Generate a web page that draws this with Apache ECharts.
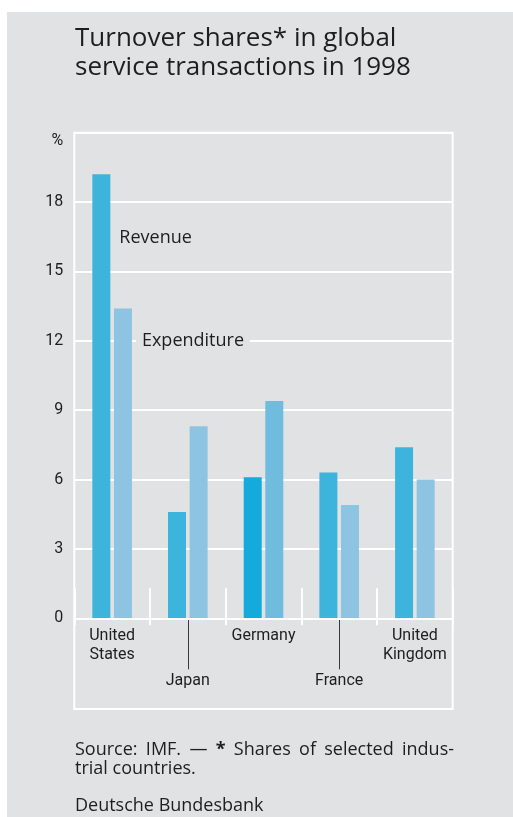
<!DOCTYPE html>
<html>
<head>
<meta charset="utf-8">
<script src="https://cdn.jsdelivr.net/npm/echarts@6/dist/echarts.min.js"></script>
<style>
html,body{margin:0;padding:0;background:#fff;}
#c{width:513px;height:817px;}
</style>
</head>
<body>
<div id="c"></div>
<script>
// ---- data ----
const categories = ['United States', 'Japan', 'Germany', 'France', 'United Kingdom'];
const categoryLabels = ['United\nStates', 'Japan', 'Germany', 'France', 'United\nKingdom'];
const revenue = [19.2, 4.6, 6.1, 6.3, 7.4];
const expenditure = [13.4, 8.3, 9.4, 4.9, 6.0];
const yTicks = [0, 3, 6, 9, 12, 15, 18, 21];
const seriesNames = ['Revenue', 'Expenditure'];
const revenueLabelAt = 16.45;
const expenditureLabelAt = 12;
const footnoteWords = ['Source:', 'IMF.', '—', '*', 'Shares', 'of', 'selected', 'indus-'];

// ---- style ----
const BG = '#e1e2e4';
const TXT = '#1e1e1e';
const NARROW = "Roboto, 'Open Sans', sans-serif";
const SANS = "'Open Sans', sans-serif";
const G = {left: 74.3, right: 452.7, top: 132.7, zero: 618.3, frameBottom: 709};

const chart = echarts.init(document.getElementById('c'), null, {renderer: 'canvas'});
const labelOf = (v) => categoryLabels[categories.indexOf(v)];

const footLine1 = footnoteWords.map((w) => (w === '*' ? '{b|*}' : '{n|' + w + '}')).join('{s| }');

const option = {
  backgroundColor: '#ffffff',
  animation: false,
  title: {
    text: 'Turnover shares* in global\nservice transactions in 1998',
    left: 75, top: 24, padding: 0,
    textStyle: {fontFamily: SANS, fontSize: 26, lineHeight: 29, fontWeight: 'normal', color: TXT}
  },
  grid: {left: G.left, right: 513 - G.right, top: G.top, bottom: 817 - G.zero, containLabel: false},
  xAxis: [
    {
      type: 'category', data: categories, position: 'bottom', z: 5,
      axisLine: {show: true, lineStyle: {color: '#ffffff', width: 2}},
      axisTick: {show: true, inside: true, length: 30, interval: 0, lineStyle: {color: '#ffffff', width: 2}},
      axisLabel: {
        interval: (i) => i % 2 === 0, margin: 8, formatter: labelOf,
        fontFamily: NARROW, fontSize: 16, lineHeight: 19, color: TXT
      },
      splitLine: {show: false}
    },
    {
      type: 'category', data: categories, position: 'bottom',
      axisLine: {show: false},
      axisTick: {show: true, length: 7, interval: 0, lineStyle: {color: '#ffffff', width: 2}},
      axisLabel: {show: false}, splitLine: {show: false}
    },
    {
      type: 'category', data: categories, position: 'bottom',
      axisLine: {show: false},
      axisTick: {show: true, alignWithLabel: true, length: 51, interval: (i) => i % 2 === 1, lineStyle: {color: '#3a3a3a', width: 1}},
      axisLabel: {
        interval: (i) => i % 2 === 1, margin: 53, formatter: labelOf,
        fontFamily: NARROW, fontSize: 16, lineHeight: 19, color: TXT
      },
      splitLine: {show: false}
    }
  ],
  yAxis: {
    type: 'value', min: yTicks[0], max: yTicks[yTicks.length - 1], interval: yTicks[1] - yTicks[0],
    name: '%', nameLocation: 'end', nameGap: -8,
    nameTextStyle: {fontFamily: NARROW, fontSize: 16, color: TXT, align: 'right', verticalAlign: 'middle', padding: [0, 11, 0, 0]},
    axisLine: {show: false}, axisTick: {show: false},
    axisLabel: {showMaxLabel: false, margin: 11, fontFamily: NARROW, fontSize: 16, color: TXT},
    splitLine: {show: true, lineStyle: {color: '#ffffff', width: 2}}
  },
  graphic: [
    {type: 'rect', z: -10, silent: true, shape: {x: 7, y: 12, width: 520, height: 820}, style: {fill: BG}},
    {type: 'rect', z: -5, silent: true,
     shape: {x: G.left, y: G.top, width: G.right - G.left, height: G.frameBottom - G.top},
     style: {fill: 'none', stroke: '#ffffff', lineWidth: 2}},
    {type: 'text', left: 75, top: 740.5, silent: true,
     style: {
       text: footLine1 + '\n{n|trial countries.}',
       rich: {
         n: {fontFamily: SANS, fontSize: 18, lineHeight: 19, fill: TXT},
         s: {fontFamily: SANS, fontSize: 18, lineHeight: 19, width: 8.3, fill: TXT},
         b: {fontFamily: SANS, fontSize: 18, lineHeight: 19, fontWeight: 'bold', fill: TXT}
       }
     }},
    {type: 'text', left: 75, top: 796.5, silent: true,
     style: {text: 'Deutsche Bundesbank', fontFamily: SANS, fontSize: 18, lineHeight: 19, fill: TXT}}
  ],
  series: [
    {
      name: seriesNames[0], type: 'bar', data: revenue, barWidth: 18, barGap: '20%',
      itemStyle: {color: (p) => p.name === 'Germany' ? '#14abdc' : '#3db4dc'},
      z: 3,
      markPoint: {
        symbol: 'circle', symbolSize: 0,
        data: [{coord: [categories[0], revenueLabelAt]}],
        label: {show: true, position: 'right', distance: 18, formatter: seriesNames[0],
                fontFamily: SANS, fontSize: 18, color: TXT}
      }
    },
    {
      name: seriesNames[1], type: 'bar', data: expenditure, barWidth: 18,
      itemStyle: {color: (p) => p.name === 'Germany' ? '#6fbcdf' : '#8dc4e1'},
      z: 3,
      markPoint: {
        symbol: 'circle', symbolSize: 0,
        data: [{coord: [categories[0], expenditureLabelAt]}],
        label: {show: true, position: 'right', distance: 13, formatter: seriesNames[1],
                fontFamily: SANS, fontSize: 18, color: TXT, backgroundColor: BG, padding: [2, 6]}
      }
    }
  ]
};
chart.setOption(option);
</script>
</body>
</html>
